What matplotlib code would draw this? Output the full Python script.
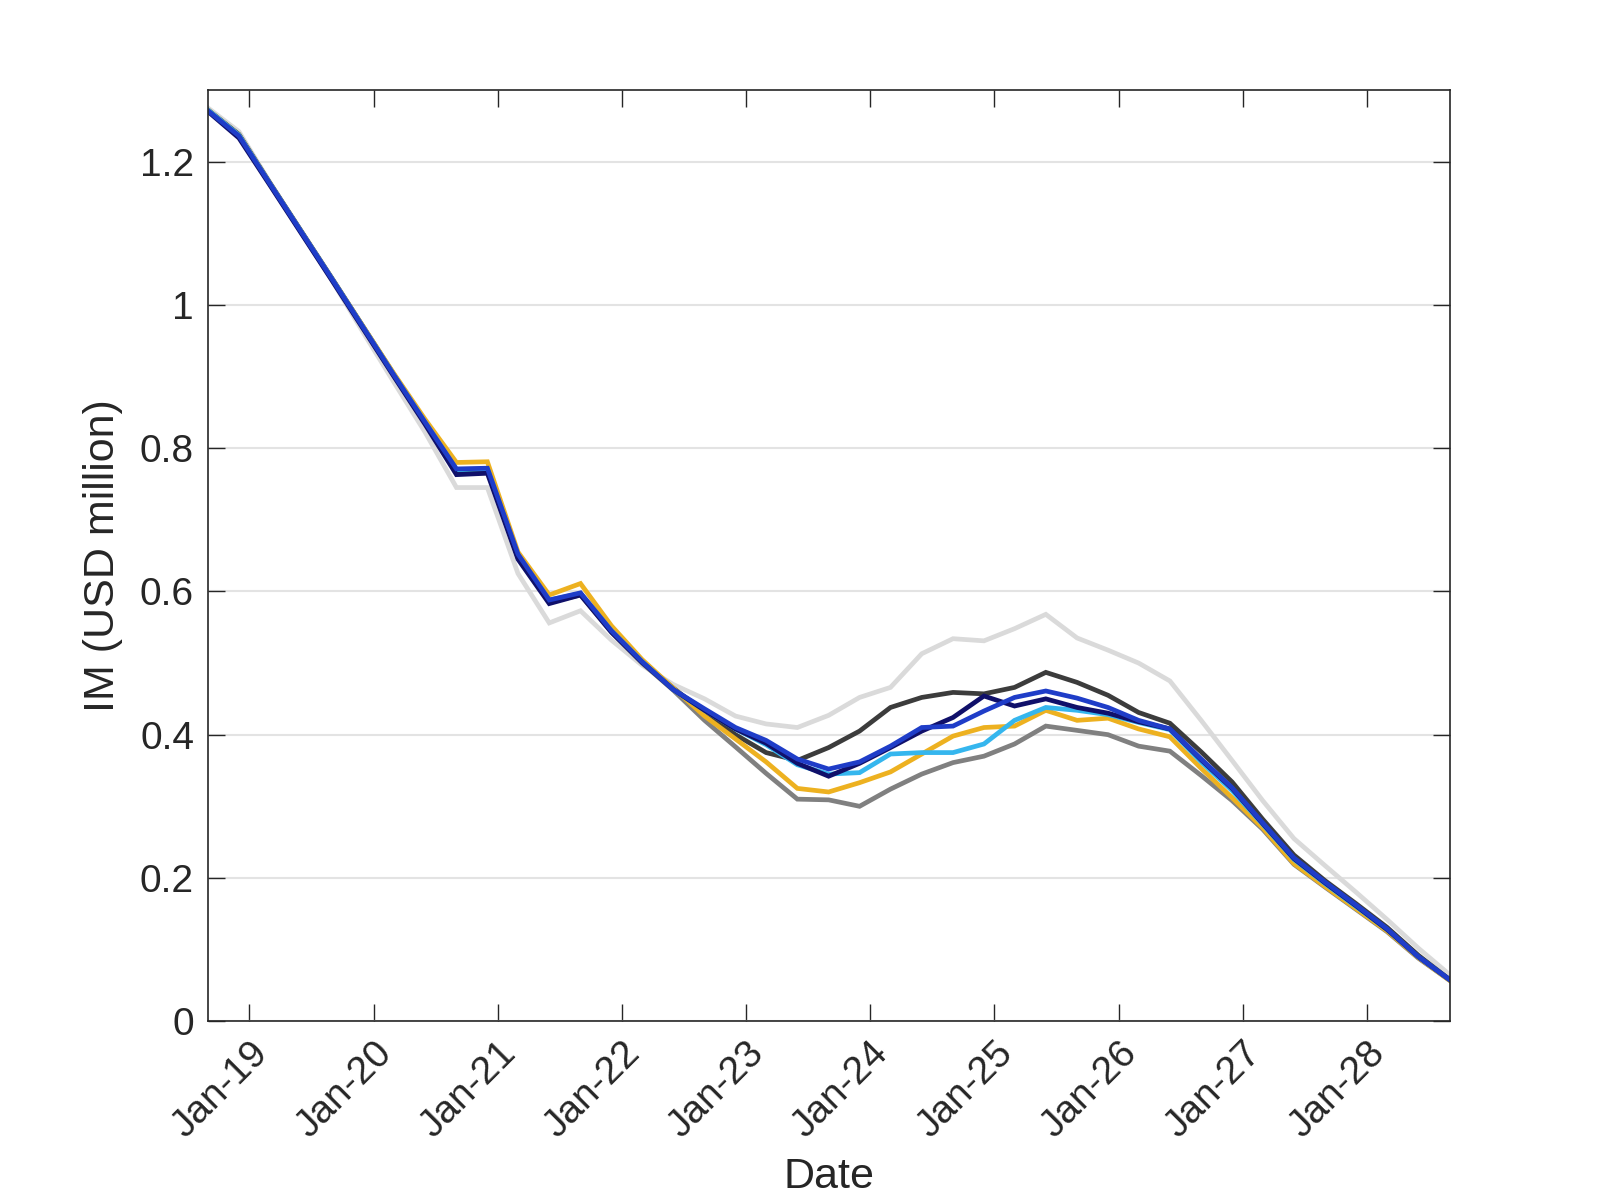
import numpy as np
import pandas as pd
import matplotlib
matplotlib.use('Agg')
import matplotlib.pyplot as plt
import matplotlib.dates as mdates

plt.rcParams['font.family'] = ['Liberation Sans', 'DejaVu Sans']

# quarterly dates Sep-18 .. Sep-28
dates = pd.date_range('2018-09-01', '2028-09-01', freq='3MS')

light_gray = [1.275, 1.242, 1.172, 1.103, 1.034, 0.962, 0.892, 0.822, 0.745, 0.745,
              0.625, 0.556, 0.573, 0.532, 0.497, 0.470, 0.450, 0.426, 0.415, 0.410,
              0.427, 0.452, 0.466, 0.513, 0.534, 0.531, 0.548, 0.568, 0.535, 0.518,
              0.500, 0.475, 0.420, 0.364, 0.308, 0.255, 0.217, 0.180, 0.142, 0.102, 0.065]
med_gray = [1.272, 1.237, 1.170, 1.103, 1.036, 0.969, 0.902, 0.836, 0.768, 0.770,
            0.647, 0.585, 0.595, 0.543, 0.500, 0.462, 0.420, 0.383, 0.346, 0.310,
            0.309, 0.300, 0.324, 0.345, 0.361, 0.370, 0.387, 0.412, 0.406, 0.400,
            0.384, 0.377, 0.343, 0.308, 0.268, 0.219, 0.187, 0.156, 0.125, 0.088, 0.057]
dark_gray = [1.272, 1.238, 1.171, 1.104, 1.037, 0.970, 0.903, 0.837, 0.768, 0.770,
             0.648, 0.586, 0.596, 0.545, 0.502, 0.465, 0.431, 0.400, 0.375, 0.364,
             0.382, 0.405, 0.438, 0.452, 0.459, 0.457, 0.466, 0.487, 0.473, 0.455,
             0.431, 0.416, 0.376, 0.334, 0.282, 0.232, 0.196, 0.164, 0.131, 0.092, 0.058]
yellow = [1.272, 1.237, 1.170, 1.103, 1.036, 0.970, 0.904, 0.840, 0.780, 0.781,
          0.655, 0.595, 0.611, 0.552, 0.505, 0.465, 0.426, 0.394, 0.362, 0.325,
          0.320, 0.333, 0.348, 0.373, 0.398, 0.410, 0.412, 0.434, 0.420, 0.423,
          0.408, 0.397, 0.353, 0.312, 0.270, 0.220, 0.188, 0.157, 0.126, 0.089, 0.057]
light_blue = [1.272, 1.237, 1.170, 1.103, 1.036, 0.969, 0.902, 0.836, 0.770, 0.771,
              0.650, 0.588, 0.597, 0.545, 0.502, 0.463, 0.434, 0.408, 0.386, 0.358,
              0.345, 0.347, 0.373, 0.375, 0.375, 0.387, 0.420, 0.438, 0.434, 0.428,
              0.417, 0.407, 0.362, 0.322, 0.275, 0.226, 0.192, 0.160, 0.128, 0.090, 0.058]
navy = [1.270, 1.233, 1.168, 1.101, 1.034, 0.967, 0.900, 0.833, 0.763, 0.765,
        0.645, 0.583, 0.595, 0.543, 0.501, 0.463, 0.434, 0.408, 0.388, 0.360,
        0.342, 0.360, 0.382, 0.405, 0.424, 0.454, 0.440, 0.450, 0.438, 0.430,
        0.418, 0.408, 0.365, 0.325, 0.276, 0.227, 0.193, 0.161, 0.128, 0.090, 0.058]
blue = [1.271, 1.236, 1.170, 1.103, 1.036, 0.969, 0.902, 0.836, 0.771, 0.772,
        0.652, 0.588, 0.598, 0.545, 0.502, 0.463, 0.436, 0.410, 0.392, 0.366,
        0.352, 0.362, 0.384, 0.410, 0.412, 0.433, 0.452, 0.461, 0.451, 0.438,
        0.420, 0.408, 0.366, 0.326, 0.277, 0.228, 0.194, 0.162, 0.129, 0.090, 0.058]

series = [light_gray, med_gray, dark_gray, yellow, light_blue, navy, blue]
colors = ['#dadada', '#808080', '#3c3c3c', '#EDB120', '#35b6ee', '#10106a', '#1f3dc8']

fig = plt.figure(figsize=(16, 12), dpi=100)
ax = fig.add_axes([0.13, 0.149, 0.776, 0.776])

for s, c in zip(series, colors):
    ax.plot(dates, s, color=c, lw=3.4, solid_joinstyle='miter')

ax.set_xlim(dates[0], dates[-1])
ax.set_ylim(0, 1.3)
ax.set_yticks([0, 0.2, 0.4, 0.6, 0.8, 1.0, 1.2])
ax.set_yticklabels(['0', '0.2', '0.4', '0.6', '0.8', '1', '1.2'])
ax.xaxis.set_major_locator(mdates.YearLocator(month=1, day=1))
ax.xaxis.set_major_formatter(mdates.DateFormatter('%b-%y'))

ax.yaxis.grid(True, color='#e3e3e3', lw=1.5)
ax.set_axisbelow(True)
ax.tick_params(direction='in', length=12, width=1, top=True, right=True,
               labelsize=28, colors='#262626', pad=10)
for lab in ax.get_xticklabels():
    lab.set_rotation(45)
    lab.set_ha('right')
    lab.set_va('top')
    lab.set_rotation_mode('anchor')
for sp in ax.spines.values():
    sp.set_color('#262626')
    sp.set_linewidth(1.2)

ax.set_ylabel('IM (USD million)', fontsize=31, color='#262626', labelpad=12)
ax.set_xlabel('Date', fontsize=31, color='#262626', labelpad=9)

fig.savefig('out.png', dpi=100)
